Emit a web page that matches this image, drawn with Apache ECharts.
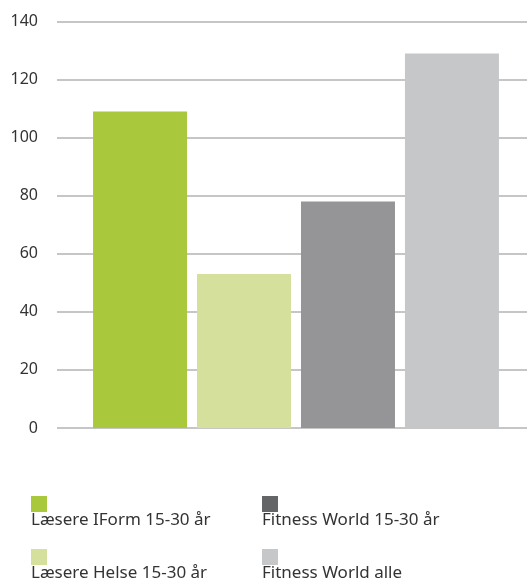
<!DOCTYPE html>
<html>
<head>
<meta charset="utf-8">
<script src="https://cdn.jsdelivr.net/npm/echarts@6/dist/echarts.min.js"></script>
<style>html,body{margin:0;padding:0;background:#fff}#c{width:527px;height:579px}</style>
</head>
<body>
<div id="c"></div>
<script>
var seriesNames = ['Læsere IForm 15-30 år', 'Læsere Helse 15-30 år', 'Fitness World 15-30 år', 'Fitness World alle'];
var seriesValues = [109, 53, 78, 129];
var barColors = ['#a9c83b', '#d4e09c', '#959598', '#c6c7c9'];
var legendColors = ['#a9c83b', '#d4e09c', '#646567', '#c6c7c9'];
var yTicks = [0, 20, 40, 60, 80, 100, 120, 140];

var FONT = '"Noto Sans"';
var chart = echarts.init(document.getElementById('c'), null, {renderer: 'canvas'});

var series = seriesNames.map(function (n, i) {
  return {
    name: n, type: 'bar', xAxisIndex: 1, yAxisIndex: 1,
    data: [seriesValues[i]],
    barWidth: 94, barGap: '10.6%',
    itemStyle: {color: barColors[i]},
    emphasis: {disabled: true},
    animation: false
  };
});
series.push({type: 'bar', xAxisIndex: 0, yAxisIndex: 0, data: [], silent: true});

var slotLeft = [31, 31, 262, 262];
var slotTop = [496, 549, 496, 549];

var legends = [];
seriesNames.forEach(function (n, i) {
  legends.push({
    left: slotLeft[i], top: slotTop[i],
    itemWidth: 16, itemHeight: 16, icon: 'rect', padding: 0,
    formatter: function () { return ''; },
    selectedMode: false,
    data: [{name: n, itemStyle: {color: legendColors[i]}}]
  });
  legends.push({
    left: slotLeft[i] - 5, top: slotTop[i] + 16, padding: 0,
    itemWidth: 0, itemHeight: 17, icon: 'none',
    selectedMode: false,
    textStyle: {fontFamily: FONT, fontSize: 17, color: '#333', lineHeight: 17},
    data: [n]
  });
});

chart.setOption({
  animation: false,
  grid: [
    {left: 57, right: 0, top: 21.5, bottom: 151, containLabel: false},
    {left: 88, width: 416, top: 21.5, bottom: 151, containLabel: false}
  ],
  xAxis: [
    {type: 'category', gridIndex: 0, data: [''], show: false},
    {type: 'category', gridIndex: 1, data: [''], show: false}
  ],
  yAxis: [
    {type: 'value', gridIndex: 0, min: yTicks[0], max: yTicks[yTicks.length - 1], interval: 20,
      axisLine: {show: false}, axisTick: {show: false},
      axisLabel: {margin: 19, fontFamily: FONT, fontSize: 16, color: '#333'},
      splitLine: {lineStyle: {color: '#b3b3b3', width: 1.5}}},
    {type: 'value', gridIndex: 1, min: yTicks[0], max: yTicks[yTicks.length - 1], interval: 20, show: false,
      splitLine: {show: false}}
  ],
  legend: legends,
  series: series
});
</script>
</body>
</html>
